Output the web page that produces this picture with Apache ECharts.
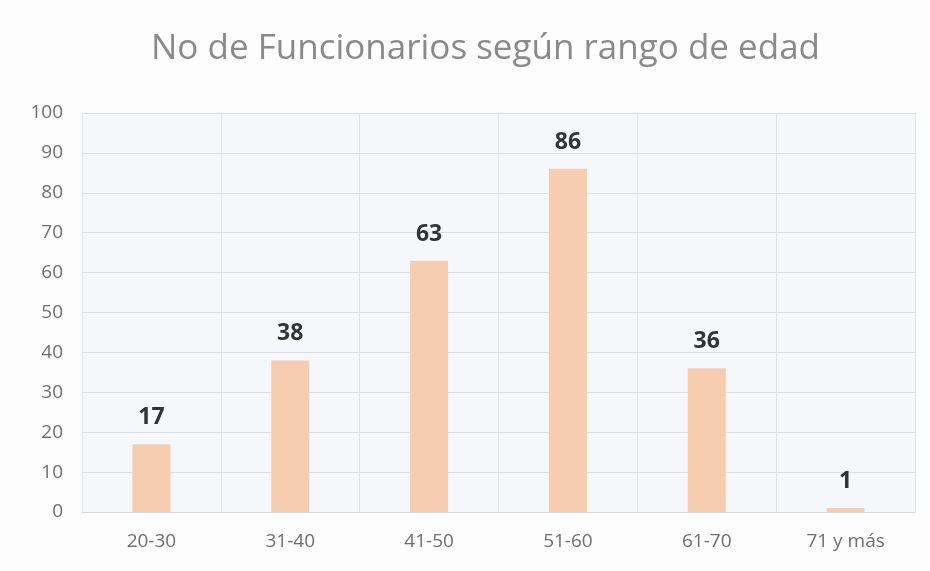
<!DOCTYPE html>
<html><head><meta charset="utf-8">
<script src="https://cdn.jsdelivr.net/npm/echarts@6/dist/echarts.min.js"></script>
<style>html,body{margin:0;padding:0;background:#fff}#c{width:930px;height:571px}</style>
</head><body><div id="c"></div>
<script>
const title = 'No de Funcionarios según rango de edad';
const categories = ['20-30','31-40','41-50','51-60','61-70','71 y más'];
const values = [17, 38, 63, 86, 36, 1];
const yTicks = [0,10,20,30,40,50,60,70,80,90,100];

const chart = echarts.init(document.getElementById('c'));
chart.setOption({
  backgroundColor: '#fdfdfd',
  animation: false,
  title: {
    text: title, left: 146, top: 27,
    textStyle: {fontFamily: 'Open Sans', fontSize: 35, fontWeight: 'normal', color: '#8a8a8a'}
  },
  grid: {left: 82, right: 15, top: 113, bottom: 59, backgroundColor: '#f5f7fa', show: true, borderWidth: 0},
  xAxis: {
    type: 'category', data: categories,
    axisLine: {show: true, lineStyle: {color: '#d9d9d9'}},
    axisTick: {show: false},
    splitLine: {show: true, lineStyle: {color: '#e2e4e8'}},
    axisLabel: {fontFamily: 'Open Sans', fontSize: 19, color: '#6f6f6f', margin: 20}
  },
  yAxis: {
    type: 'value', min: yTicks[0], max: yTicks[yTicks.length-1], interval: 10,
    axisLine: {show: false}, axisTick: {show: false},
    splitLine: {lineStyle: {color: '#dcdfe4'}},
    axisLabel: {fontFamily: 'Open Sans', fontSize: 19, color: '#6f6f6f', margin: 19}
  },
  series: [{
    type: 'bar', data: values, barWidth: 38,
    itemStyle: {color: '#f6cdb0'},
    label: {show: true, position: 'top', distance: 15, fontFamily: 'Open Sans', fontSize: 23, fontWeight: 'bold', color: '#333'}
  }]
});
</script></body></html>
